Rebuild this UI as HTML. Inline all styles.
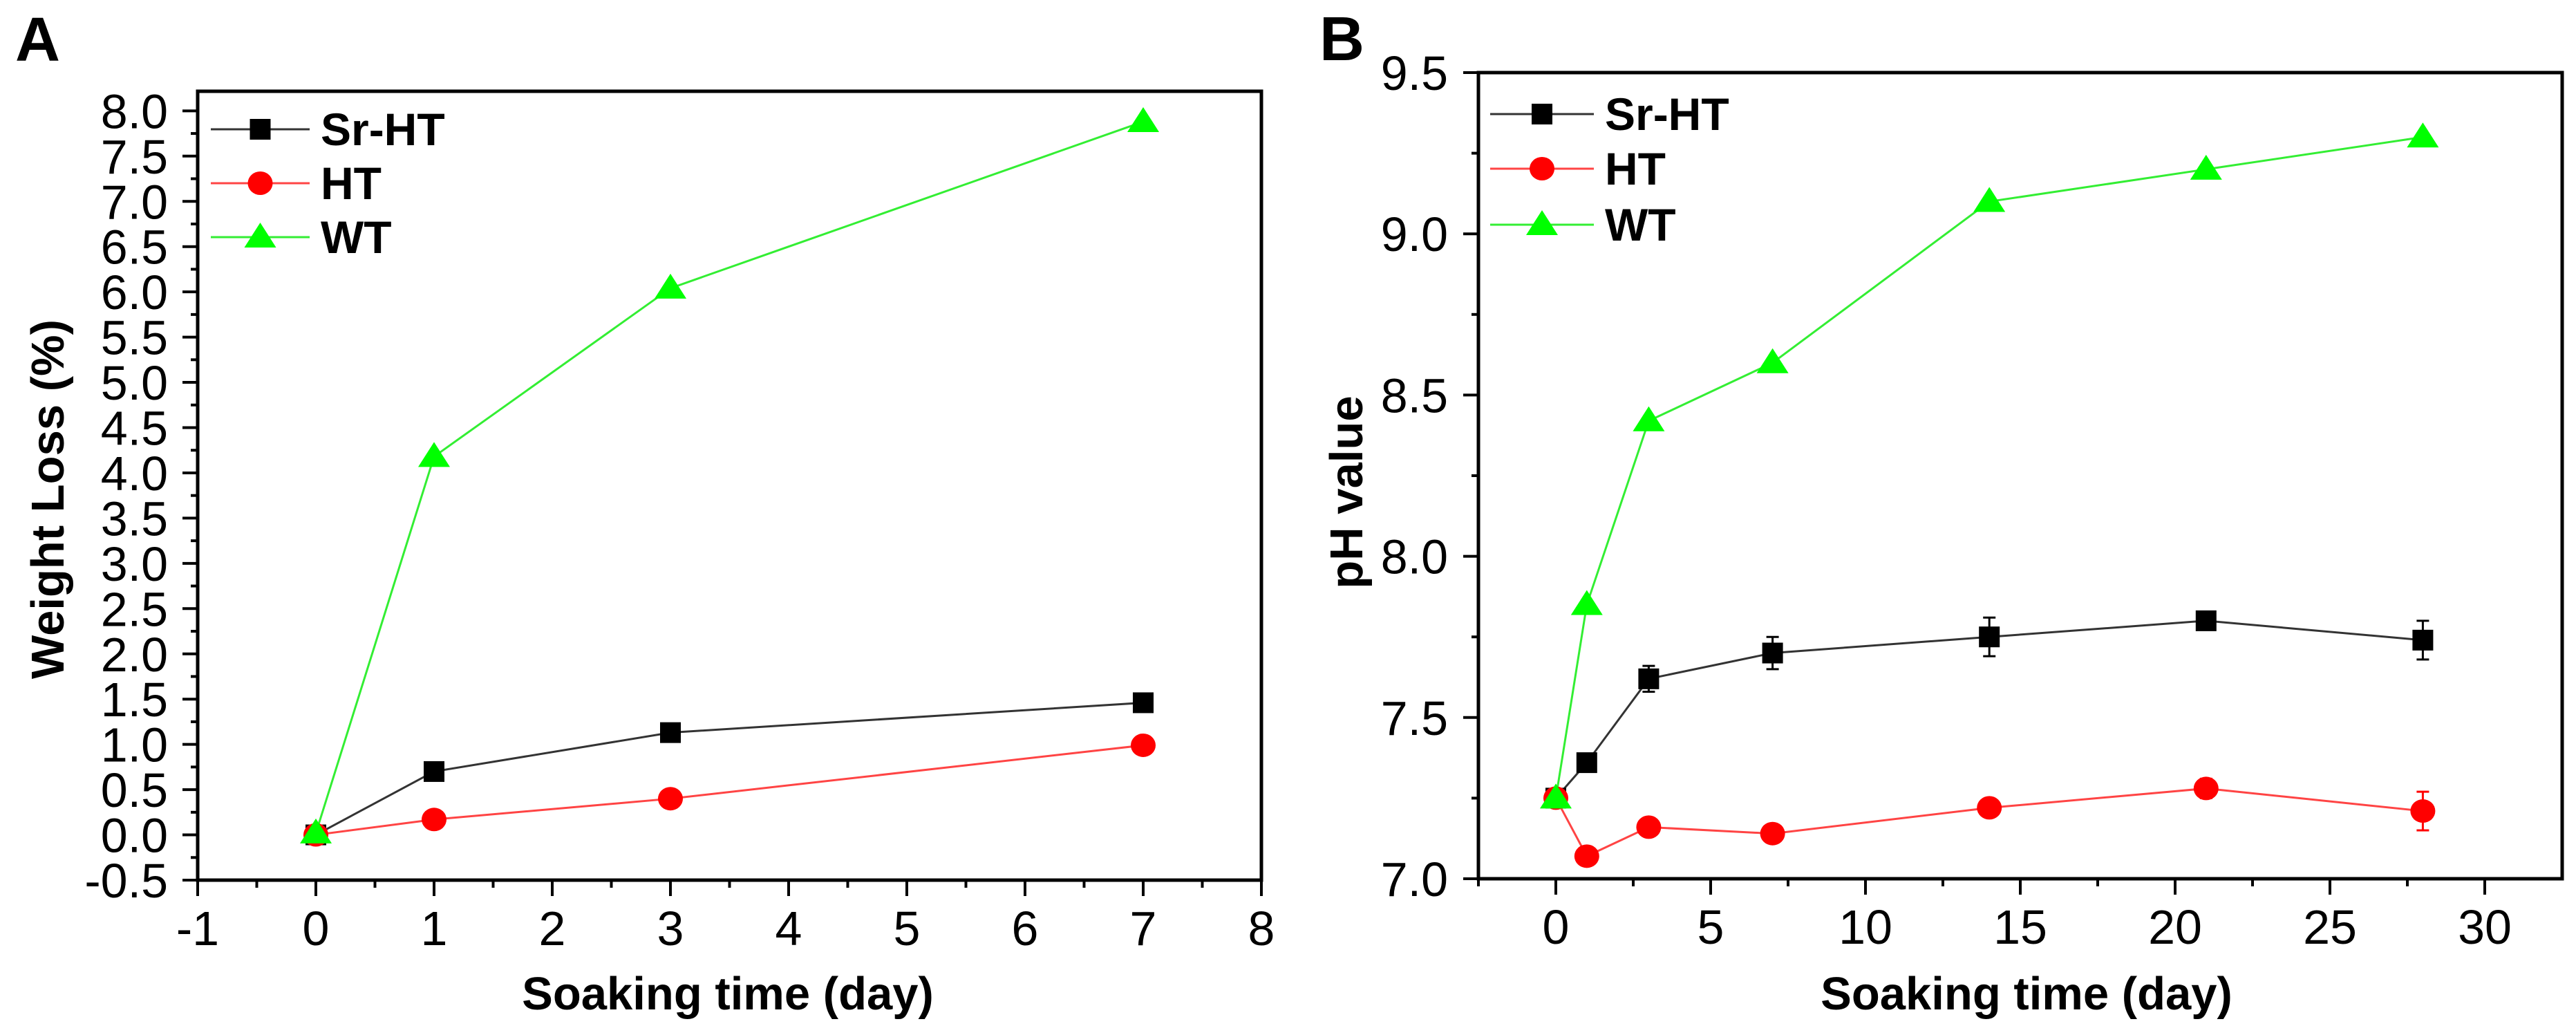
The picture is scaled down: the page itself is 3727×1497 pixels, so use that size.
<!DOCTYPE html>
<html><head><meta charset="utf-8"><style>
html,body{margin:0;padding:0;background:#fff;}
svg{display:block;font-family:"Liberation Sans",Arial,sans-serif;}
</style></head><body>
<svg id="chart" width="3727" height="1497" viewBox="0 0 3727 1497" xmlns="http://www.w3.org/2000/svg">
<rect width="3727" height="1497" fill="#fff"/>
<text x="22" y="88" font-size="90" font-weight="bold">A</text>
<text x="1909" y="87" font-size="90" font-weight="bold">B</text>
<g id="pa"></g>
<g id="pb"></g>
</svg>
<script>
// Panel A data
const aDays = [0, 1, 3, 7];
const aSrHT = [0, 0.70, 1.13, 1.46];
const aHT = [0, 0.17, 0.40, 0.99];
const aWT = [0.02, 4.18, 6.04, 7.88];
const aXTicks = [-1, 0, 1, 2, 3, 4, 5, 6, 7, 8];
const aYTicks = [-0.5, 0, 0.5, 1, 1.5, 2, 2.5, 3, 3.5, 4, 4.5, 5, 5.5, 6, 6.5, 7, 7.5, 8];
// Panel B data
const bDays = [0, 1, 3, 7, 14, 21, 28];
const bSrHT = [7.25, 7.36, 7.62, 7.70, 7.75, 7.80, 7.74];
const bSrHTErr = [0.01, 0.01, 0.04, 0.05, 0.06, 0.01, 0.06];
const bHT = [7.25, 7.07, 7.16, 7.14, 7.22, 7.28, 7.21];
const bHTErr = [0.01, 0.01, 0.01, 0.01, 0.01, 0.03, 0.06];
const bWT = [7.25, 7.85, 8.42, 8.60, 9.10, 9.20, 9.30];
const bXTicks = [0, 5, 10, 15, 20, 25, 30];
const bYTicks = [7.0, 7.5, 8.0, 8.5, 9.0, 9.5];
const seriesNames = ["Sr-HT", "HT", "WT"];

const NS = "http://www.w3.org/2000/svg";
function mk(parent, tag, attrs, text) {
  const e = document.createElementNS(NS, tag);
  for (const k in attrs) e.setAttribute(k, attrs[k]);
  if (text !== undefined) e.textContent = text;
  parent.appendChild(e);
  return e;
}
function fmt1(v){ return v.toFixed(1); }

function marker(g, kind, cx, cy, name) {
  let e;
  if (kind === 0) e = mk(g, "rect", {x: cx-15, y: cy-15, width: 30, height: 30, fill: "#000"});
  else if (kind === 1) e = mk(g, "ellipse", {cx: cx, cy: cy, rx: 18, ry: 17, fill: "#f00"});
  else e = mk(g, "polygon", {points: `${cx},${cy-21} ${cx-23},${cy+15} ${cx+23},${cy+15}`, fill: "#0f0"});
  
  
  return e;
}

function panel(g, cfg) {
  const X = v => cfg.x0 + (v - cfg.xmin) / (cfg.xmax - cfg.xmin) * (cfg.x1 - cfg.x0);
  const Y = v => cfg.y1 - (v - cfg.ymin) / (cfg.ymax - cfg.ymin) * (cfg.y1 - cfg.y0);
  const colors = ["#000", "#f00", "#0f0"];
  const lineColors = ["#333", "#f44", "#3e3"];
  // series
  cfg.series.forEach((s, si) => {
    const sg = mk(g, "g", {});
    
    
    const pts = cfg.xs.map((d, i) => X(d) + "," + Y(s[i])).join(" ");
    const pl = mk(sg, "polyline", {points: pts, fill: "none", stroke: lineColors[si], "stroke-width": 3});
    
    
    if (cfg.errs && cfg.errs[si]) {
      cfg.xs.forEach((d, i) => {
        const e = cfg.errs[si][i];
        const cx = X(d), t = Y(s[i] + e), b = Y(s[i] - e);
        const eb = mk(sg, "path", {d: `M${cx},${t}V${b}M${cx-9},${t}H${cx+9}M${cx-9},${b}H${cx+9}`, stroke: colors[si] === "#0f0" ? "#0a0" : colors[si], "stroke-width": 3, fill: "none"});
        
        
      });
    }
  });
  // markers drawn in order: WT under? keep order black, red, green
  cfg.series.forEach((s, si) => {
    cfg.xs.forEach((d, i) => marker(g, si, X(d), Y(s[i]), 'point-' + seriesNames[si].toLowerCase()));
  });
  // axes box
  const box = mk(g, "rect", {x: cfg.x0, y: cfg.y0, width: cfg.x1 - cfg.x0, height: cfg.y1 - cfg.y0, fill: "none", stroke: "#000", "stroke-width": 5});
  
  
  // x ticks
  const xg = mk(g, "g", {});
  
  
  cfg.xTicks.forEach((v, i) => {
    const x = X(v);
    mk(xg, "line", {x1: x, x2: x, y1: cfg.y1, y2: cfg.y1 + 23, stroke: "#000", "stroke-width": 4});
    if (i < cfg.xTicks.length - 1) {
      const xm = X(v + cfg.xMinor);
      if (xm <= cfg.x1 + 1) mk(xg, "line", {x1: xm, x2: xm, y1: cfg.y1, y2: cfg.y1 + 11, stroke: "#000", "stroke-width": 4});
    }
    const t = mk(xg, "text", {x: x, y: cfg.y1 + 94, "font-size": 70, "text-anchor": "middle"}, String(v));
    
    
  });
  if (cfg.xExtraMinor) cfg.xExtraMinor.forEach(v => {
    const xm = X(v);
    mk(xg, "line", {x1: xm, x2: xm, y1: cfg.y1, y2: cfg.y1 + 11, stroke: "#000", "stroke-width": 4});
  });
  // y ticks
  const yg = mk(g, "g", {});
  
  
  cfg.yTicks.forEach((v, i) => {
    const y = Y(v);
    mk(yg, "line", {x1: cfg.x0 - 22, x2: cfg.x0, y1: y, y2: y, stroke: "#000", "stroke-width": 4});
    const vm = v + cfg.yMinor;
    if (vm < cfg.ymax) {
      const ym = Y(vm);
      mk(yg, "line", {x1: cfg.x0 - 10, x2: cfg.x0, y1: ym, y2: ym, stroke: "#000", "stroke-width": 4});
    }
    const t = mk(yg, "text", {x: cfg.yLabelRight, y: y + 25, "font-size": 70, "text-anchor": "end"}, fmt1(v));
    
    
  });
  // titles
  const xt = mk(g, "text", {x: cfg.xTitleX, y: 1460, "font-size": 67, "font-weight": "bold", "text-anchor": "middle"}, "Soaking time (day)");
  
  
  const yt = mk(g, "text", {x: 0, y: 0, "font-size": 67, "font-weight": "bold", "text-anchor": "middle", transform: `translate(${cfg.yTitleX},${cfg.yTitleY}) rotate(-90)`}, cfg.yTitle);
  
  
  // legend
  const lg = mk(g, "g", {});
  
  
  seriesNames.forEach((n, si) => {
    const y = cfg.legY[si];
    const eg = mk(lg, "g", {});
    
    
    mk(eg, "line", {x1: cfg.legX0, x2: cfg.legX1, y1: y, y2: y, stroke: lineColors[si], "stroke-width": 3});
    marker(eg, si, (cfg.legX0 + cfg.legX1) / 2, y, 'legend-marker');
    mk(eg, "text", {x: cfg.legX1 + 16, y: y + 23, "font-size": 66, "font-weight": "bold"}, n);
  });
}

panel(document.getElementById("pa"), {
  x0: 286, x1: 1825, y0: 132, y1: 1273,
  xmin: -1, xmax: 8, ymin: -0.5, ymax: (1273 - 132) / 130.9 - 0.5,
  xs: aDays, series: [aSrHT, aHT, aWT], errs: null,
  xTicks: aXTicks, xMinor: 0.5, yTicks: aYTicks, yMinor: 0.25,
  yLabelRight: 243, xTitleX: 1053, yTitleX: 92, yTitleY: 722, yTitle: "Weight Loss (%)",
  legX0: 305, legX1: 448, legY: [187, 265, 343]
});
panel(document.getElementById("pb"), {
  x0: 2139, x1: 3707, y0: 105, y1: 1271,
  xmin: -2.5, xmax: 32.5, ymin: 7.0, ymax: 9.5,
  xs: bDays, series: [bSrHT, bHT, bWT], errs: [bSrHTErr, bHTErr, null],
  xTicks: bXTicks, xMinor: 2.5, xExtraMinor: [-2.5], yTicks: bYTicks, yMinor: 0.25,
  yLabelRight: 2095, xTitleX: 2932, yTitleX: 1971, yTitleY: 712, yTitle: "pH value",
  legX0: 2156, legX1: 2306, legY: [165, 244, 325]
});
</script>
</body></html>
